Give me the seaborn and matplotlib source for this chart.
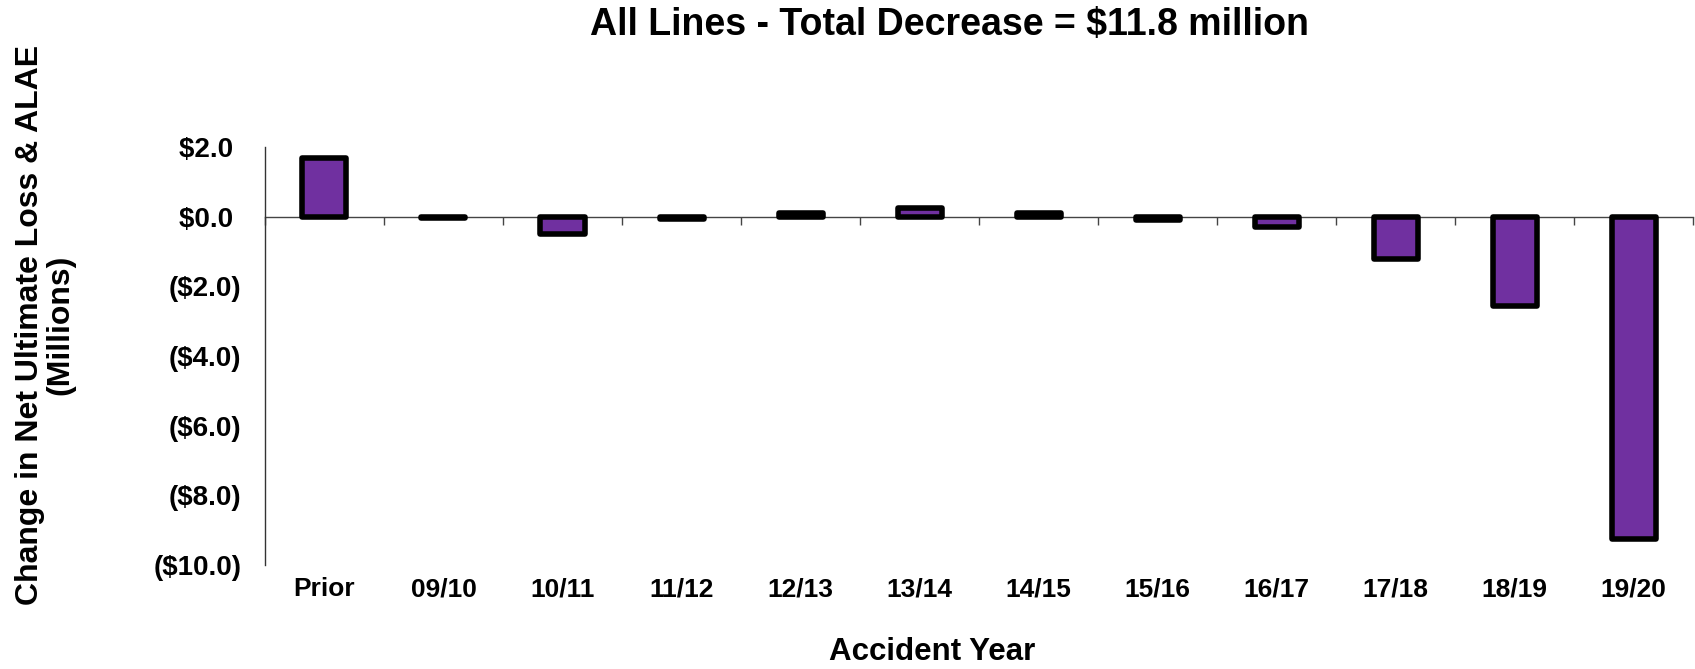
import numpy as np
import pandas as pd
import matplotlib
matplotlib.use("Agg")
import matplotlib.pyplot as plt
from matplotlib.ticker import FuncFormatter, FixedLocator, NullFormatter
import seaborn as sns

# accident years and change in net ultimate loss & ALAE ($ millions)
years = ["Prior", "09/10", "10/11", "11/12", "12/13", "13/14",
         "14/15", "15/16", "16/17", "17/18", "18/19", "19/20"]
change = [1.7, -0.03, -0.5, -0.05, 0.1, 0.25, 0.12, -0.08, -0.3, -1.2, -2.55, -9.25]

data = pd.DataFrame({"year": years, "change": change})

sns.set_style("white")
plt.rcParams["font.family"] = ["Liberation Sans", "DejaVu Sans"]
plt.rcParams["font.weight"] = "bold"
plt.rcParams["text.color"] = "black"
plt.rcParams["axes.labelcolor"] = "black"
plt.rcParams["xtick.color"] = "black"
plt.rcParams["ytick.color"] = "black"

fig = plt.figure(figsize=(16.95, 6.69), dpi=100)
ax = fig.add_axes([0.1563, 0.1555, 0.8427, 0.6245])

sns.barplot(data=data, x="year", y="change", color="#7030A0", saturation=1,
            width=0.37, edgecolor="black", linewidth=4, ax=ax)
for p in ax.patches:
    p.set_joinstyle("round")

ymin, ymax = -10, 2
ax.set_ylim(ymin, ymax)
ax.set_xlim(-0.5, len(years) - 0.5)
ax.set_yticks(np.arange(-10, 2.1, 2))

# excel style: negatives in brackets, positives keep room for the bracket
def money(v, pos):
    if v < -1e-9:
        return "(${:.1f})".format(-v)
    return "${:.1f} ".format(abs(v))

ax.yaxis.set_major_formatter(FuncFormatter(money))
ax.tick_params(axis="y", length=6, width=1, color="#333333", pad=11, labelsize=20,
               labelcolor="black")
ax.tick_params(axis="x", length=0, pad=9, labelsize=19, labelcolor="black")

for side in ["top", "right", "bottom"]:
    ax.spines[side].set_visible(False)
ax.spines["left"].set_color("#333333")
ax.spines["left"].set_linewidth(1)

# zero line with ticks between categories
zero = ax.secondary_xaxis((0 - ymin) / (ymax - ymin))
zero.set_alignment("bottom")
zero.spines["bottom"].set_color("#444444")
zero.spines["bottom"].set_linewidth(1)
zero.xaxis.set_major_locator(FixedLocator(np.arange(-0.5, len(years), 1)))
zero.xaxis.set_major_formatter(NullFormatter())
zero.tick_params(axis="x", direction="out", length=6, width=1, color="#444444")
ax.set_zorder(1)
ax.patch.set_visible(False)

ax.set_xlabel("Accident Year", fontsize=22.5, fontweight="bold")
ax.set_ylabel("Change in Net Ultimate Loss & ALAE\n(Millions)", fontsize=23,
              fontweight="bold", linespacing=1.0)
ax.yaxis.set_label_coords(-0.133, 0.575)
ax.xaxis.set_label_coords(0.467, -0.172)

fig.text(0.56, 0.962, "All Lines - Total Decrease = $11.8 million",
         ha="center", va="center", fontsize=27, fontweight="bold")

fig.savefig("out.png", dpi=100, facecolor="white")
